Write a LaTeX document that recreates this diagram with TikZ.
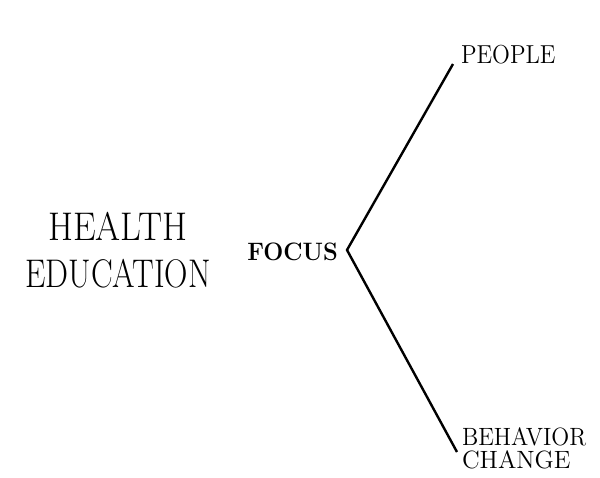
\documentclass[tikz,border=0pt]{standalone}
\begin{document}
\begin{tikzpicture}[x=0.5pt,y=-0.5pt,
  branch/.style={line width=1.2pt},
  lbl/.style={inner sep=0pt, outer sep=0pt}]
\useasboundingbox (0,0) rectangle (600,477);
\node[lbl, anchor=base, align=center,
      font=\fontsize{20}{23.5}\selectfont] (he) at (118,287)
  {\scalebox{0.9}[1]{HEALTH}\\\scalebox{0.81}[1]{EDUCATION}};
\node[lbl, anchor=base east, font=\fontsize{12.6}{14}\selectfont\bfseries] (focus) at (338,260)
  {\scalebox{0.94}[1]{FOCUS}};
\node[lbl, anchor=base west, font=\fontsize{13}{15}\selectfont] (people) at (461,63)
  {\scalebox{0.9}[1]{PEOPLE}};
\node[lbl, anchor=base west, align=left, font=\fontsize{12.5}{11.5}\selectfont] (bc) at (462,468)
  {\scalebox{0.94}[1]{BEHAVIOR}\\CHANGE};
\coordinate (v) at (347,250);
\coordinate (pe) at (453,64);
\coordinate (be) at (457,452);
\draw[branch] (pe) -- (v) -- (be);
\end{tikzpicture}
\end{document}
